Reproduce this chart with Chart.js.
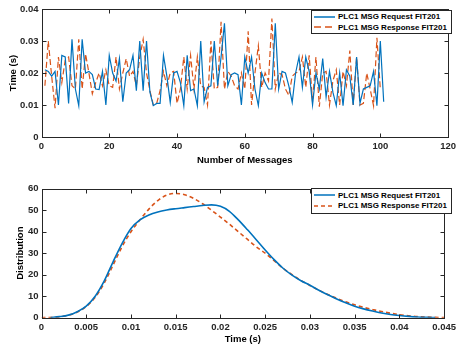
<!DOCTYPE html>
<html>
<head>
    <meta charset='UTF-8'>
    <script src="https://cdn.jsdelivr.net/npm/chart.js"></script>
    <style>
        body { margin: 0; background: #fff; font-family: "Liberation Sans", Arial, sans-serif; }
        .wrap { position: relative; width: 460px; height: 175px; }
        .legend { position: absolute; left: 311px; width: 139px; border: 1px solid #262626; background: #fff;
                  font: bold 8px "Liberation Sans", Arial, sans-serif; color: #000; }
        .legend .row { display: flex; align-items: center; height: 10.5px; }
        .legend svg { margin-left: 2px; margin-right: 3px; }
    </style>
</head>
<title>PLC1 MSG FIT201</title>

<body>
    <div class="wrap">
        <canvas id="topChart" width="460" height="175"></canvas>
        <div class="legend" style="top:10px; height:21px; padding-top:0.5px">
            <div class="row"><svg width="21" height="4"><line x1="0" y1="2" x2="21" y2="2" stroke="#0072BD" stroke-width="1.5"/></svg>PLC1 MSG Request FIT201</div>
            <div class="row"><svg width="21" height="4"><line x1="0" y1="2" x2="21" y2="2" stroke="#D95319" stroke-width="1.5" stroke-dasharray="7,4"/></svg>PLC1 MSG Response FIT201</div>
        </div>
    </div>
    <div class="wrap">
        <canvas id="bottomChart" width="460" height="175"></canvas>
        <div class="legend" style="top:13px; height:23px; padding-top:1px">
            <div class="row"><svg width="21" height="4"><line x1="0" y1="2" x2="21" y2="2" stroke="#0072BD" stroke-width="1.5"/></svg>PLC1 MSG Request FIT201</div>
            <div class="row"><svg width="21" height="4"><line x1="0" y1="2" x2="21" y2="2" stroke="#D95319" stroke-width="1.5" stroke-dasharray="4,3"/></svg>PLC1 MSG Response FIT201</div>
        </div>
    </div>
    <script>
        // top plot: time per message
        const requestTimes = [
            0.021, 0.0205, 0.019, 0.0205, 0.010, 0.0255, 0.025, 0.0105, 0.0305, 0.015,
            0.0098, 0.0305, 0.020, 0.0205, 0.0195, 0.015, 0.0148, 0.0205, 0.010, 0.0255,
            0.020, 0.0175, 0.0245, 0.011, 0.020, 0.021, 0.0255, 0.0145, 0.030, 0.0145,
            0.030, 0.014, 0.0098, 0.0105, 0.0105, 0.0255, 0.019, 0.0108, 0.020, 0.0205,
            0.017, 0.0098, 0.0255, 0.0145, 0.015, 0.0098, 0.030, 0.011, 0.0155, 0.016,
            0.030, 0.016, 0.025, 0.0355, 0.016, 0.0195, 0.020, 0.0195, 0.010, 0.025,
            0.020, 0.025, 0.015, 0.0098, 0.020, 0.017, 0.015, 0.015, 0.0355, 0.015,
            0.0205, 0.020, 0.016, 0.0108, 0.020, 0.025, 0.0155, 0.025, 0.0205, 0.010,
            0.020, 0.015, 0.0245, 0.0125, 0.0205, 0.014, 0.0098, 0.020, 0.0098, 0.021,
            0.019, 0.010, 0.025, 0.0105, 0.015, 0.0155, 0.016, 0.0205, 0.0098, 0.030,
            0.011
        ];
        const responseTimes = [
            0.016, 0.030, 0.019, 0.009, 0.025, 0.017, 0.024, 0.025, 0.016, 0.015,
            0.0305, 0.015, 0.026, 0.020, 0.0135, 0.017, 0.020, 0.016, 0.021, 0.016,
            0.0155, 0.025, 0.015, 0.020, 0.0245, 0.019, 0.0205, 0.016, 0.025, 0.0305,
            0.020, 0.0145, 0.010, 0.0105, 0.0145, 0.0205, 0.016, 0.020, 0.0205, 0.0105,
            0.015, 0.025, 0.015, 0.0255, 0.015, 0.025, 0.016, 0.0155, 0.010, 0.030,
            0.015, 0.0155, 0.036, 0.015, 0.0205, 0.019, 0.016, 0.015, 0.020, 0.015,
            0.033, 0.010, 0.020, 0.0285, 0.0155, 0.020, 0.0175, 0.037, 0.015, 0.020,
            0.0195, 0.015, 0.013, 0.019, 0.020, 0.0205, 0.025, 0.0155, 0.0255, 0.011,
            0.025, 0.0095, 0.020, 0.0205, 0.010, 0.0175, 0.021, 0.010, 0.0205, 0.016,
            0.027, 0.010, 0.025, 0.010, 0.0105, 0.020, 0.015, 0.0098, 0.031, 0.015
        ];

        // bottom plot: distribution curves
        const timeGrid = [
            0.000, 0.001, 0.002, 0.003, 0.004, 0.005, 0.006, 0.007, 0.008, 0.009,
            0.010, 0.011, 0.012, 0.013, 0.014, 0.015, 0.016, 0.017, 0.018, 0.019,
            0.020, 0.021, 0.022, 0.023, 0.024, 0.025, 0.026, 0.027, 0.028, 0.029,
            0.030, 0.031, 0.032, 0.033, 0.034, 0.035, 0.036, 0.037, 0.038, 0.039,
            0.040, 0.041, 0.042, 0.043, 0.044, 0.045
        ];
        const requestDist = [
            null, 0.1, 0.5, 1.2, 2.8, 5.4, 10, 17, 26, 34.5,
            41.5, 45.5, 47.8, 49.2, 50.1, 50.7, 51.2, 51.7, 52.2, 52.5,
            51.8, 49.5, 45.5, 41, 36.3, 31.5, 27, 23, 19.8, 17.2,
            15.1, 12.8, 10.7, 8.7, 6.9, 5.3, 4.1, 3.1, 2.2, 1.5,
            1.0, 0.6, 0.3, 0.15, 0.05, null
        ];
        const responseDist = [
            0.0, 0.1, 0.4, 1.1, 2.6, 5.2, 9.5, 16, 24.5, 33,
            40, 45.5, 50.5, 54.5, 57, 57.8, 57.2, 55.5, 53, 50,
            46.8, 43.5, 40, 36.5, 33, 30, 26.5, 23, 20, 17.3,
            15, 12.8, 10.8, 9, 7.4, 6, 4.8, 3.8, 2.9, 2.1,
            1.4, 0.9, 0.5, 0.3, 0.15, 0.05
        ];

        const blue = '#0072BD';
        const red = '#D95319';
        const axisColor = '#262626';
        const tickFont = { family: 'Liberation Sans', size: 9.5, weight: 'bold' };
        const titleFont = { family: 'Liberation Sans', size: 9.5, weight: 'bold' };

        function fmt(v) { return String(Number(v.toFixed(4))); }

        // box + inward ticks on all four sides
        const boxPlugin = {
            id: 'box',
            afterDatasetsDraw(chart) {
                const { ctx, chartArea: a, scales: { x, y } } = chart;
                const L = Math.round(a.left) + 0.5, R = Math.round(a.right) + 0.5;
                const T = Math.round(a.top) + 0.5, B = Math.round(a.bottom) + 0.5;
                ctx.save();
                ctx.strokeStyle = axisColor;
                ctx.lineWidth = 1;
                ctx.strokeRect(L, T, R - L, B - T);
                ctx.beginPath();
                x.ticks.forEach(t => {
                    const px = Math.round(x.getPixelForValue(t.value)) + 0.5;
                    ctx.moveTo(px, B); ctx.lineTo(px, B - 4);
                    ctx.moveTo(px, T); ctx.lineTo(px, T + 4);
                });
                y.ticks.forEach(t => {
                    const py = Math.round(y.getPixelForValue(t.value)) + 0.5;
                    ctx.moveTo(L, py); ctx.lineTo(L + 4, py);
                    ctx.moveTo(R, py); ctx.lineTo(R - 4, py);
                });
                ctx.stroke();
                ctx.restore();
            }
        };

        function makeOptions(cfg) {
            return {
                responsive: false,
                animation: false,
                layout: { padding: { left: 0, right: cfg.right, top: cfg.top, bottom: 0 } },
                plugins: { legend: { display: false }, tooltip: { enabled: false } },
                elements: { point: { radius: 0 } },
                scales: {
                    x: {
                        type: 'linear', min: cfg.xmin, max: cfg.xmax,
                        grid: { display: false, drawTicks: false },
                        border: { display: false },
                        ticks: { stepSize: cfg.xstep, color: '#262626', font: tickFont, padding: 4,
                                 maxRotation: 0, autoSkip: false, callback: fmt },
                        title: { display: true, text: cfg.xtitle, color: '#000', font: titleFont,
                                 padding: { top: 0, bottom: cfg.xtitlePad } },
                        afterFit(s) { s.height = cfg.xHeight; }
                    },
                    y: {
                        min: cfg.ymin, max: cfg.ymax,
                        grid: { display: false, drawTicks: false },
                        border: { display: false },
                        ticks: { stepSize: cfg.ystep, color: '#262626', font: tickFont, padding: 3,
                                 callback: fmt },
                        title: { display: true, text: cfg.ytitle, color: '#000', font: titleFont,
                                 padding: { top: cfg.ytitlePad, bottom: 0 } },
                        afterFit(s) { s.width = 41.5; }
                    }
                }
            };
        }

        new Chart(document.getElementById('topChart'), {
            type: 'line',
            data: {
                datasets: [
                    {
                        label: 'PLC1 MSG Request FIT201',
                        data: requestTimes.map((v, i) => ({ x: i + 1, y: v })),
                        borderColor: blue, borderWidth: 1.2, tension: 0
                    },
                    {
                        label: 'PLC1 MSG Response FIT201',
                        data: responseTimes.map((v, i) => ({ x: i + 1, y: v })),
                        borderColor: red, borderWidth: 1.2, borderDash: [6, 3], tension: 0
                    }
                ]
            },
            options: makeOptions({
                right: 6.5, top: 9, xHeight: 38,
                xmin: 0, xmax: 120, xstep: 20, xtitle: 'Number of Messages', xtitlePad: 9,
                ymin: 0, ymax: 0.04, ystep: 0.01, ytitle: 'Time (s)', ytitlePad: 7.5
            }),
            plugins: [boxPlugin]
        });

        new Chart(document.getElementById('bottomChart'), {
            type: 'line',
            data: {
                datasets: [
                    {
                        label: 'PLC1 MSG Request FIT201',
                        data: timeGrid.map((t, i) => ({ x: t, y: requestDist[i] })),
                        borderColor: blue, borderWidth: 1.6, cubicInterpolationMode: 'monotone'
                    },
                    {
                        label: 'PLC1 MSG Response FIT201',
                        data: timeGrid.map((t, i) => ({ x: t, y: responseDist[i] })),
                        borderColor: red, borderWidth: 1.6, borderDash: [4, 3], cubicInterpolationMode: 'monotone'
                    }
                ]
            },
            options: makeOptions({
                right: 6.3, top: 13.7, xHeight: 32.3,
                xmin: 0, xmax: 0.045, xstep: 0.005, xtitle: 'Time (s)', xtitlePad: 4.5,
                ymin: 0, ymax: 60, ystep: 10, ytitle: 'Distribution', ytitlePad: 15
            }),
            plugins: [boxPlugin]
        });
    </script>
</body>

</html>
